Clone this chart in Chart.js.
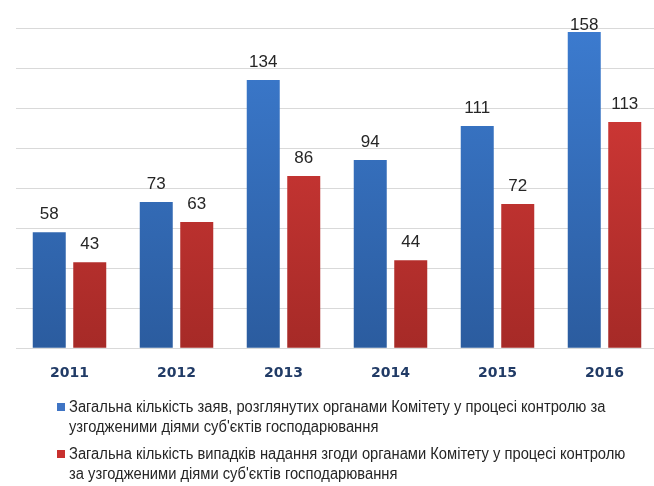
<!DOCTYPE html>
<html>
<head>
<meta charset="utf-8">
<script src="https://cdn.jsdelivr.net/npm/chart.js@4/dist/chart.umd.min.js"></script>
<style>
	body { margin: 0; background: #fff; overflow: hidden; width: 654px; height: 486px; }
	#wrap { position: absolute; left: 0; top: 0; width: 658px; height: 407px; }
	#legend { position: absolute; left: 57px; top: 397px; width: 640px;
		font-family: "Liberation Sans", Arial, sans-serif; font-size: 16px; color: #262626; }
	.item { position: relative; padding-left: 12px; line-height: 20px; margin-bottom: 7px; }
	.item span.box { position: absolute; left: 0; top: 6px; width: 8px; height: 8px; }
	.line { white-space: nowrap; display: block; transform: scaleX(0.92); transform-origin: left center; }
</style>
</head>
<body>
<div id="wrap"><canvas id="myChart"></canvas></div>
<div id="legend"></div>
<script>
var years = ['2011', '2012', '2013', '2014', '2015', '2016'];
var applications = [58, 73, 134, 94, 111, 158];
var consents = [43, 63, 86, 44, 72, 113];
var seriesNames = [
	['Загальна кількість заяв, розглянутих органами Комітету у процесі контролю за', 'узгодженими діями суб\'єктів господарювання'],
	['Загальна кількість випадків надання згоди органами Комітету у процесі контролю', 'за узгодженими діями суб\'єктів господарювання']
];
var legendColors = ['#3F74C4', '#C8302E'];

function barGradient(top, bottom) {
	return function(context) {
		var area = context.chart.chartArea;
		if (!area) return bottom;
		var g = context.chart.ctx.createLinearGradient(0, area.top, 0, area.bottom);
		g.addColorStop(0, top);
		g.addColorStop(1, bottom);
		return g;
	};
}

// value labels above bars (top one squeezed, as in the original)
var valueLabels = {
	id: 'valueLabels',
	afterDatasetsDraw: function(chart) {
		var ctx = chart.ctx;
		ctx.save();
		ctx.font = '17px "Liberation Sans", Arial, sans-serif';
		ctx.fillStyle = '#262626';
		ctx.textAlign = 'center';
		ctx.textBaseline = 'alphabetic';
		chart.data.datasets.forEach(function(ds, i) {
			chart.getDatasetMeta(i).data.forEach(function(bar, j) {
				ctx.fillText(ds.data[j], bar.x, Math.max(bar.y - 13, 30));
			});
		});
		ctx.restore();
	}
};

var myChart = new Chart(document.getElementById('myChart'), {
	type: 'bar',
	data: {
		labels: years,
		datasets: [{
			label: seriesNames[0].join(' '),
			data: applications,
			backgroundColor: barGradient('#3C7BCF', '#2B5C9F')
		}, {
			label: seriesNames[1].join(' '),
			data: consents,
			backgroundColor: barGradient('#D93B39', '#A62A27')
		}]
	},
	options: {
		responsive: true,
		maintainAspectRatio: false,
		animation: false,
		categoryPercentage: 0.757,
		barPercentage: 0.815,
		layout: {
			padding: { left: 16, top: 28, right: 0, bottom: 8 }
		},
		plugins: {
			tooltip: { enabled: false },
			legend: { display: false }
		},
		scales: {
			x: {
				grid: { display: false, drawTicks: false },
				border: { display: false },
				ticks: {
					padding: 17,
					color: '#213B66',
					font: { family: '"DejaVu Sans", sans-serif', size: 14, weight: 'bold' }
				}
			},
			y: {
				min: 0,
				max: 160,
				grid: { color: '#D9D9D9', drawTicks: false },
				border: { display: false },
				ticks: { stepSize: 20, display: false }
			}
		}
	},
	plugins: [valueLabels]
});

// legend in html, two lines per series
var legendEl = document.getElementById('legend');
seriesNames.forEach(function(lines, i) {
	var item = document.createElement('div');
	item.className = 'item';
	var box = document.createElement('span');
	box.className = 'box';
	box.style.background = legendColors[i];
	item.appendChild(box);
	lines.forEach(function(t) {
		var s = document.createElement('span');
		s.className = 'line';
		s.textContent = t;
		item.appendChild(s);
	});
	legendEl.appendChild(item);
});
</script>
</body>
</html>
